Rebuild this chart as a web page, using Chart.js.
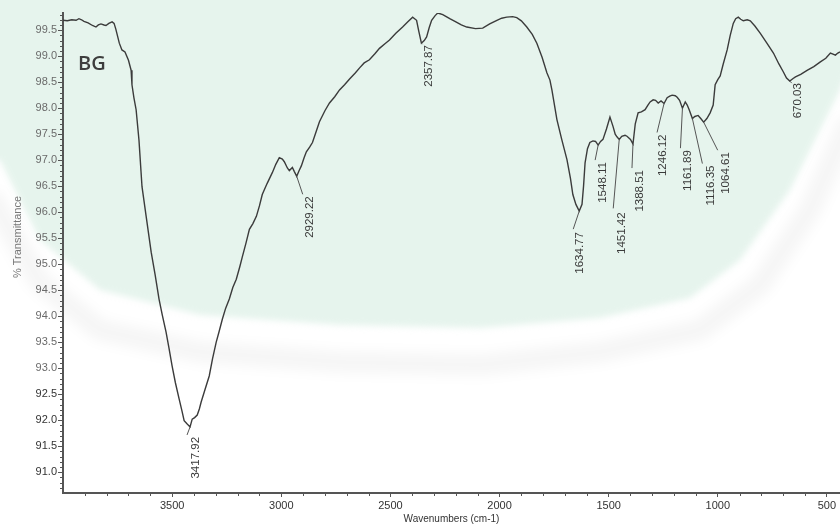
<!DOCTYPE html>
<html>
<head>
<meta charset="utf-8">
<title>FTIR spectrum BG</title>
<script src="https://cdn.jsdelivr.net/npm/chart.js@4/dist/chart.umd.min.js"></script>
<style>
  html, body { margin: 0; padding: 0; background: #fff; overflow: hidden; }
  canvas { display: block; }
</style>
</head>
<body>
<canvas id="spectrum" width="840" height="526"></canvas>
<script>
// ---- spectrum data (wavenumber in cm-1, %T) ----
const wavenumbers = [
  4000, 3980, 3960, 3940, 3927, 3915, 3904, 3885, 3865, 3849, 3838, 3826, 3812, 3803, 3790, 3775, 3766, 3758, 3752, 3742,
  3730, 3716, 3700, 3688, 3684, 3675, 3665, 3652, 3638, 3619, 3596, 3578, 3560, 3545, 3528, 3515, 3500, 3485, 3468, 3455,
  3445, 3432, 3417.92, 3408, 3397, 3385, 3375, 3367, 3350, 3330, 3315, 3298, 3285, 3270, 3255, 3238, 3222, 3206, 3190, 3179,
  3162, 3146, 3130, 3114, 3100, 3087, 3065, 3041, 3025, 3009, 2995, 2986, 2972, 2963, 2949, 2940, 2929.22, 2918, 2908, 2895,
  2885, 2870, 2857, 2840, 2825, 2800, 2779, 2755, 2733, 2710, 2687, 2660, 2640, 2620, 2596, 2570, 2550, 2525, 2504, 2475,
  2444, 2420, 2398, 2380, 2370, 2357.87, 2345, 2334, 2322, 2311, 2295, 2283, 2260, 2240, 2228, 2200, 2175, 2150, 2110, 2077,
  2045, 2012, 1990, 1967, 1940, 1921, 1900, 1875, 1850, 1829, 1805, 1783, 1769, 1760, 1737, 1715, 1691, 1675, 1664, 1650,
  1634.77, 1622, 1615, 1608, 1597, 1586, 1572, 1560, 1548.11, 1537, 1526, 1510, 1494, 1480, 1470, 1462, 1451.42, 1440, 1425, 1416,
  1400, 1388.51, 1378, 1365, 1350, 1333, 1320, 1310, 1296, 1285, 1273, 1260, 1246.12, 1232, 1220, 1209, 1195, 1186, 1175, 1161.89,
  1149, 1140, 1131, 1116.35, 1105, 1090, 1078, 1064.61, 1050, 1035, 1021, 1012, 1000, 989, 975, 957, 943, 929, 918, 906,
  895, 883, 865, 851, 830, 805, 775, 745, 720, 700, 685, 670.03, 655, 644, 620, 589, 560, 530, 505, 484,
  472, 461, 450, 440
];
const transmittance = [
  99.69, 99.68, 99.70, 99.69, 99.72, 99.70, 99.67, 99.64, 99.59, 99.56, 99.60, 99.62, 99.60, 99.59, 99.63, 99.66, 99.63, 99.52, 99.42, 99.25,
  99.12, 99.08, 98.92, 98.73, 98.45, 98.20, 97.97, 97.39, 96.49, 95.92, 95.23, 94.80, 94.33, 94.02, 93.70, 93.40, 93.04, 92.72, 92.41, 92.18,
  91.99, 91.93, 91.87, 92.02, 92.05, 92.10, 92.22, 92.35, 92.58, 92.85, 93.18, 93.50, 93.70, 93.94, 94.15, 94.33, 94.55, 94.71, 94.95, 95.13,
  95.40, 95.67, 95.78, 95.92, 96.12, 96.34, 96.55, 96.76, 96.92, 97.05, 97.02, 96.97, 96.85, 96.80, 96.86, 96.78, 96.69, 96.80, 96.89, 97.05,
  97.16, 97.25, 97.34, 97.55, 97.74, 97.95, 98.10, 98.22, 98.35, 98.45, 98.56, 98.68, 98.78, 98.87, 98.93, 99.05, 99.15, 99.24, 99.31, 99.44,
  99.56, 99.66, 99.75, 99.69, 99.48, 99.25, 99.30, 99.37, 99.55, 99.69, 99.78, 99.83, 99.80, 99.75, 99.72, 99.66, 99.60, 99.56, 99.53, 99.54,
  99.62, 99.69, 99.73, 99.75, 99.76, 99.74, 99.68, 99.56, 99.42, 99.25, 98.98, 98.68, 98.54, 98.35, 97.78, 97.40, 97.01, 96.65, 96.34, 96.15,
  96.02, 96.15, 96.50, 96.95, 97.22, 97.34, 97.37, 97.36, 97.29, 97.36, 97.40, 97.60, 97.83, 97.65, 97.50, 97.45, 97.40, 97.46, 97.48, 97.46,
  97.40, 97.31, 97.70, 97.91, 97.93, 97.97, 98.06, 98.12, 98.16, 98.15, 98.10, 98.14, 98.09, 98.20, 98.23, 98.25, 98.24, 98.21, 98.15, 98.00,
  98.12, 98.06, 97.97, 97.80, 97.84, 97.86, 97.80, 97.73, 97.80, 97.91, 98.06, 98.45, 98.55, 98.62, 98.85, 99.12, 99.40, 99.63, 99.72, 99.75,
  99.71, 99.68, 99.70, 99.68, 99.58, 99.44, 99.25, 99.06, 98.85, 98.70, 98.58, 98.52, 98.57, 98.60, 98.65, 98.73, 98.80, 98.89, 98.96, 99.06,
  99.04, 99.02, 99.06, 99.08
];

// picked peak positions (cm-1)
const peakLabels = [3417.92, 2929.22, 2357.87, 1634.77, 1548.11, 1451.42, 1388.51, 1246.12, 1161.89, 1116.35, 1064.61, 670.03];

// axis tick labels
const xTickValues = [3500, 3000, 2500, 2000, 1500, 1000, 500];
const yTickValues = [91.0, 91.5, 92.0, 92.5, 93.0, 93.5, 94.0, 94.5, 95.0, 95.5, 96.0, 96.5, 97.0, 97.5, 98.0, 98.5, 99.0, 99.5];

const sampleName = 'BG';
const xTitle = 'Wavenumbers (cm-1)';
const yTitle = '% Transmittance';

// ---- drawing helpers ----
const FONT = "'Liberation Sans', Arial, sans-serif";
Chart.defaults.font.family = FONT;

// leader line end and label anchor, in px relative to the peak on the trace
const labelLayout = {
  '3417.92': { lead: [-3, 8],  text: [6, 10] },
  '2929.22': { lead: [6, 18],  text: [13, 20] },
  '2357.87': { lead: [1, 1],   text: [7, 2] },
  '1634.77': { lead: [-6, 18], text: [1, 21] },
  '1548.11': { lead: [-3, 15], text: [5, 17] },
  '1451.42': { lead: [-6, 69], text: [3, 73] },
  '1388.51': { lead: [-1, 24], text: [7, 26] },
  '1246.12': { lead: [-7, 29], text: [-1, 31] },
  '1161.89': { lead: [-2, 40], text: [5, 42] },
  '1116.35': { lead: [10, 45], text: [18, 47] },
  '1064.61': { lead: [14, 28], text: [22, 30] },
  '670.03':  { lead: [2, 2],   text: [8, 2] }
};

// faint library watermark behind the plot
const watermarkPlugin = {
  id: 'watermark',
  beforeDraw(chart) {
    const ctx = chart.ctx;
    ctx.save();
    ctx.fillStyle = '#ffffff';
    ctx.fillRect(0, 0, chart.width, chart.height);
    const inner = [[0,160],[40,240],[100,290],[200,315],[340,325],[480,328],[600,318],[690,298],[740,260],[790,190],[840,90],[860,40]];
    ctx.filter = 'blur(3px)';
    ctx.fillStyle = '#e6f4ed';
    ctx.beginPath();
    ctx.moveTo(-20, -20);
    ctx.lineTo(-20, inner[0][1]);
    inner.forEach(p => ctx.lineTo(p[0], p[1]));
    ctx.lineTo(870, -20);
    ctx.closePath();
    ctx.fill();
    const ring = [[-10,195],[40,282],[100,330],[200,352],[340,362],[480,365],[600,352],[700,330],[760,285],[810,210],[850,120]];
    ctx.filter = 'blur(6px)';
    ctx.strokeStyle = 'rgba(0,0,0,0.035)';
    ctx.lineWidth = 22;
    ctx.lineJoin = 'round';
    ctx.beginPath();
    ring.forEach((p, i) => i ? ctx.lineTo(p[0], p[1]) : ctx.moveTo(p[0], p[1]));
    ctx.stroke();
    ctx.restore();
  }
};

// minor ticks on both axes
const minorTickPlugin = {
  id: 'minorTicks',
  afterDraw(chart) {
    const { ctx, chartArea, scales } = chart;
    ctx.save();
    ctx.strokeStyle = '#555';
    ctx.lineWidth = 1;
    ctx.beginPath();
    for (let w = 500; w <= 3900; w += 100) {
      if (w % 500 === 0) continue;
      const x = Math.round(scales.x.getPixelForValue(w)) + 0.5;
      ctx.moveTo(x, chartArea.bottom);
      ctx.lineTo(x, chartArea.bottom + 3);
    }
    for (let k = 907; k <= 998; k++) {
      if (k % 5 === 0) continue;
      const y = Math.round(scales.y.getPixelForValue(k / 10)) + 0.5;
      ctx.moveTo(chartArea.left - 3, y);
      ctx.lineTo(chartArea.left, y);
    }
    ctx.stroke();
    ctx.restore();
  }
};

// peak labels, sample name and the y-axis title
const annotationPlugin = {
  id: 'annotations',
  afterDatasetsDraw(chart) {
    const { ctx, scales } = chart;
    ctx.save();
    ctx.strokeStyle = '#555';
    ctx.lineWidth = 1;
    ctx.fillStyle = '#3a3a3a';
    ctx.font = '11.5px ' + FONT;
    peakLabels.forEach(wn => {
      const i = wavenumbers.indexOf(wn);
      const px = scales.x.getPixelForValue(wn);
      const py = scales.y.getPixelForValue(transmittance[i]);
      const lay = labelLayout[wn.toFixed(2)];
      ctx.beginPath();
      ctx.moveTo(px, py);
      ctx.lineTo(px + lay.lead[0], py + lay.lead[1]);
      ctx.stroke();
      ctx.save();
      ctx.translate(px + lay.text[0], py + lay.text[1]);
      ctx.rotate(-Math.PI / 2);
      ctx.textAlign = 'right';
      ctx.textBaseline = 'middle';
      ctx.fillText(wn.toFixed(2), 0, 0);
      ctx.restore();
    });

    ctx.font = "600 20px 'Open Sans', " + FONT;
    ctx.fillStyle = '#3d3d3d';
    ctx.textAlign = 'left';
    ctx.textBaseline = 'alphabetic';
    ctx.fillText(sampleName, 78, 70);

    ctx.save();
    ctx.font = '11px ' + FONT;
    ctx.fillStyle = '#777';
    ctx.translate(18, 237);
    ctx.rotate(-Math.PI / 2);
    ctx.textAlign = 'center';
    ctx.textBaseline = 'middle';
    ctx.fillText(yTitle, 0, 0);
    ctx.restore();
    ctx.restore();
  }
};

new Chart(document.getElementById('spectrum'), {
  type: 'line',
  data: {
    datasets: [{
      data: wavenumbers.map((w, i) => ({ x: w, y: transmittance[i] })),
      borderColor: '#3b3b3b',
      borderWidth: 1.4,
      pointRadius: 0,
      tension: 0,
      fill: false
    }]
  },
  options: {
    responsive: false,
    animation: false,
    layout: { padding: { top: 13, right: 0, bottom: 0, left: 0 } },
    plugins: { legend: { display: false }, tooltip: { enabled: false } },
    scales: {
      x: {
        type: 'linear',
        reverse: true,
        min: 440,
        max: 4000,
        afterBuildTicks: s => { s.ticks = xTickValues.map(v => ({ value: v })); },
        afterFit: s => { s.height = 33; },
        grid: { drawOnChartArea: false, drawTicks: true, tickLength: 4, tickColor: '#555', tickWidth: 1 },
        border: { display: true, color: '#555', width: 2 },
        ticks: { autoSkip: false, maxRotation: 0, padding: 2, color: '#333', font: { size: 11 },
                 callback: v => String(v) },
        title: { display: true, text: xTitle, color: '#333', font: { size: 10 }, padding: { top: 0, bottom: 1 } }
      },
      y: {
        type: 'linear',
        min: 90.6,
        max: 99.83,
        afterBuildTicks: s => { s.ticks = yTickValues.map(v => ({ value: v })); },
        afterFit: s => { s.width = 63; },
        grid: { drawOnChartArea: false, drawTicks: true, tickLength: 5, tickColor: '#555', tickWidth: 1 },
        border: { display: true, color: '#555', width: 2 },
        ticks: { padding: 1, font: { size: 11 },
                 color: c => (c.tick && c.tick.value <= 92.5) ? '#333' : '#6a6a6a',
                 callback: v => Number(v).toFixed(1) }
      }
    }
  },
  plugins: [watermarkPlugin, minorTickPlugin, annotationPlugin]
});
</script>
</body>
</html>
